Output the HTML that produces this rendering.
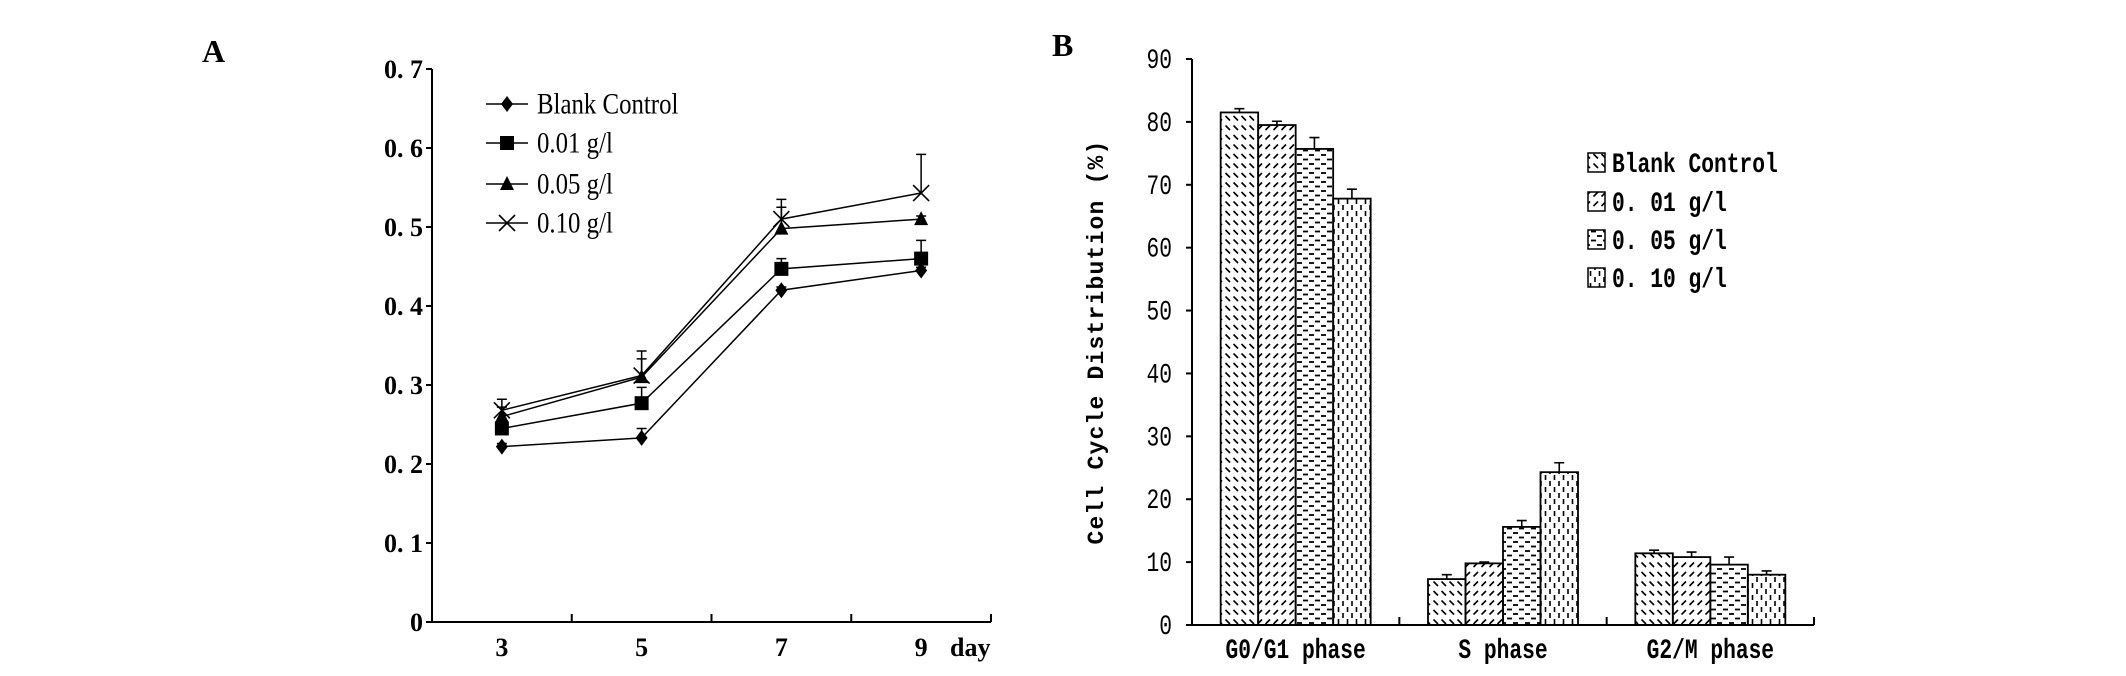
<!DOCTYPE html>
<html><head><meta charset="utf-8">
<style>
html,body{margin:0;padding:0;background:#fff;overflow:hidden;}
svg{display:block;}
.serif{font-family:"Liberation Serif",serif;}
.mono{font-family:"Liberation Mono",monospace;}
</style></head>
<body>
<svg id="fig" width="2126" height="676" viewBox="0 0 2126 676" xmlns="http://www.w3.org/2000/svg">
<defs>
<pattern id="p0" width="8" height="9.5" patternUnits="userSpaceOnUse"><line x1="1.5" y1="2" x2="6" y2="6.5" stroke="#000" stroke-width="1.6"/></pattern>
<pattern id="p1" width="8" height="9.5" patternUnits="userSpaceOnUse"><line x1="1.5" y1="6.5" x2="6" y2="2" stroke="#000" stroke-width="1.6"/></pattern>
<pattern id="p2" width="12" height="9" patternUnits="userSpaceOnUse"><line x1="1" y1="2" x2="6" y2="2" stroke="#000" stroke-width="1.8"/><line x1="7" y1="6.5" x2="12" y2="6.5" stroke="#000" stroke-width="1.8"/></pattern>
<pattern id="p3" width="9" height="12" patternUnits="userSpaceOnUse"><line x1="2" y1="1" x2="2" y2="6" stroke="#000" stroke-width="1.6"/><line x1="6.5" y1="7" x2="6.5" y2="12" stroke="#000" stroke-width="1.6"/></pattern>
</defs>
<text x="202" y="62" class="serif" font-size="32" font-weight="bold">A</text>
<text x="1052" y="56" class="serif" font-size="32" font-weight="bold">B</text>
<g id="chartA"></g>
<g id="chartB"></g>
</svg>
<script>
// ---- Chart A data ----
const daysA = ["3","5","7","9"];
const seriesNamesA = ["Blank Control","0.01 g/l","0.05 g/l","0.10 g/l"];
const blankA = [0.222,0.233,0.420,0.445];
const g001A = [0.245,0.277,0.447,0.460];
const g005A = [0.260,0.310,0.498,0.510];
const g010A = [0.268,0.312,0.510,0.543];
const blankErrA = [0.004,0.012,0.004,0.004];
const g001ErrA = [0.004,0.020,0.013,0.023];
const g005ErrA = [0.012,0.023,0.027,0.004];
const g010ErrA = [0.014,0.031,0.025,0.049];
const yTicksA = [0,0.1,0.2,0.3,0.4,0.5,0.6,0.7];
const yTickLabelsA = ["0","0. 1","0. 2","0. 3","0. 4","0. 5","0. 6","0. 7"];
// ---- Chart B data ----
const phasesB = ["G0/G1 phase","S phase","G2/M phase"];
const seriesNamesB = ["Blank Control","0. 01 g/l","0. 05 g/l","0. 10 g/l"];
const blankB = [81.5,7.3,11.4];
const g001B = [79.5,9.8,10.8];
const g005B = [75.7,15.6,9.6];
const g010B = [67.8,24.3,8.0];
const blankErrB = [0.6,0.7,0.5];
const g001ErrB = [0.6,0.2,0.8];
const g005ErrB = [1.8,1.0,1.2];
const g010ErrB = [1.5,1.5,0.6];
const yTicksB = [0,10,20,30,40,50,60,70,80,90];

const NS="http://www.w3.org/2000/svg";
function mk(parent,tag,attrs,text){const e=document.createElementNS(NS,tag);for(const k in attrs)e.setAttribute(k,attrs[k]);if(text!==undefined)e.textContent=text;parent.appendChild(e);return e;}
function sc(x,y,sx,sy){return `translate(${x},${y}) scale(${sx},${sy}) translate(${-x},${-y})`;}

// ===== Chart A =====
(function(){
const g=document.getElementById('chartA');
const x0=432,x1=991,yb=622,yt=69;
const yA=v=>yb-(v/0.7)*(yb-yt);
const bandW=(x1-x0)/4;
const xA=i=>x0+bandW*(i+0.5);
let e;
e=mk(g,'line',{x1:x0,y1:yt,x2:x0,y2:yb,stroke:'#000','stroke-width':2});


e=mk(g,'line',{x1:x0,y1:yb,x2:x1,y2:yb,stroke:'#000','stroke-width':2});


yTicksA.forEach((v,i)=>{
 mk(g,'line',{x1:x0-6,y1:yA(v),x2:x0,y2:yA(v),stroke:'#000','stroke-width':2});
 e=mk(g,'text',{x:x0-9,y:yA(v)+9,'text-anchor':'end','font-size':26,'font-weight':'bold',class:'serif'},yTickLabelsA[i]);
 
 
});
for(let i=1;i<=4;i++){mk(g,'line',{x1:x0+bandW*i,y1:yb,x2:x0+bandW*i,y2:yb-8,stroke:'#000','stroke-width':2});}
daysA.forEach((d,i)=>{
 e=mk(g,'text',{x:xA(i),y:yb+34,'text-anchor':'middle','font-size':26,'font-weight':'bold',class:'serif'},d);
 
 
});
e=mk(g,'text',{x:950,y:yb+34,'font-size':26,'font-weight':'bold',class:'serif'},'day');


const all=[blankA,g001A,g005A,g010A],errs=[blankErrA,g001ErrA,g005ErrA,g010ErrA];
function marker(p,k,cx,cy){
 if(k===0)return mk(p,'polygon',{points:`${cx},${cy-8} ${cx+6},${cy} ${cx},${cy+8} ${cx-6},${cy}`,fill:'#000'});
 if(k===1)return mk(p,'rect',{x:cx-7,y:cy-7,width:14,height:14,fill:'#000'});
 if(k===2)return mk(p,'polygon',{points:`${cx},${cy-8} ${cx+7},${cy+6} ${cx-7},${cy+6}`,fill:'#000'});
 return mk(p,'path',{d:`M${cx-8},${cy-8}L${cx+8},${cy+8}M${cx+8},${cy-8}L${cx-8},${cy+8}`,stroke:'#000','stroke-width':1.6,fill:'none'});
}
all.forEach((ser,k)=>{
 const sg=mk(g,'g',{});
 
 
 mk(sg,'polyline',{points:ser.map((v,i)=>xA(i)+','+yA(v)).join(' '),fill:'none',stroke:'#000','stroke-width':1.5});
 ser.forEach((v,i)=>{
  const ye=yA(v+errs[k][i]);
  mk(sg,'path',{d:`M${xA(i)},${yA(v)}V${ye}M${xA(i)-5},${ye}H${xA(i)+5}`,stroke:'#000','stroke-width':1.5});
  const m=marker(sg,k,xA(i),yA(v));
  
  
 });
});
const legY=[104,143,184,223];
seriesNamesA.forEach((n,k)=>{
 const lg=mk(g,'g',{});
 
 
 mk(lg,'line',{x1:486,y1:legY[k],x2:528,y2:legY[k],stroke:'#000','stroke-width':1.5});
 marker(lg,k,507,legY[k]);
 mk(lg,'text',{x:537,y:legY[k]+9,'font-size':27,class:'serif',transform:sc(537,legY[k],0.92,1.08)},n);
});
})();

// ===== Chart B =====
(function(){
const g=document.getElementById('chartB');
const x0=1192,x1=1814,yb=625,yt=59;
const yB=v=>yb-(v/90)*(yb-yt);
const gw=(x1-x0)/3, bw=37.5, off=(gw-4*bw)/2;
let e;
e=mk(g,'line',{x1:x0,y1:yt,x2:x0,y2:yb,stroke:'#000','stroke-width':2});


e=mk(g,'line',{x1:x0,y1:yb,x2:x1,y2:yb,stroke:'#000','stroke-width':2});


yTicksB.forEach(v=>{
 mk(g,'line',{x1:x0-6,y1:yB(v),x2:x0,y2:yB(v),stroke:'#000','stroke-width':2});
 const tx=x0-20,ty=yB(v)+9;
 e=mk(g,'text',{x:tx,y:ty,'text-anchor':'end','font-size':25,class:'mono',transform:sc(tx,ty,0.85,1.1)},String(v));
 
 
});
for(let i=1;i<=3;i++)mk(g,'line',{x1:x0+gw*i,y1:yb,x2:x0+gw*i,y2:yb-8,stroke:'#000','stroke-width':2});
phasesB.forEach((p,i)=>{
 const tx=x0+gw*(i+0.5),ty=yb+33;
 e=mk(g,'text',{x:tx,y:ty,'text-anchor':'middle','font-size':25,'font-weight':'bold',class:'mono',transform:sc(tx,ty,0.85,1.1)},p);
 
 
});
e=mk(g,'text',{x:0,y:0,'text-anchor':'middle','font-size':23,'font-weight':'bold',class:'mono','letter-spacing':'1.2',transform:'translate(1103,342) rotate(-90)'},'Cell Cycle Distribution (%)');


const all=[blankB,g001B,g005B,g010B],errs=[blankErrB,g001ErrB,g005ErrB,g010ErrB];
all.forEach((ser,k)=>{
 ser.forEach((v,i)=>{
  const bx=x0+gw*i+off+k*bw;
  const r=mk(g,'rect',{x:bx,y:yB(v),width:bw,height:yb-yB(v),fill:`url(#p${k})`,stroke:'#000','stroke-width':1.8});
  
  
  const cx=bx+bw/2,ye=yB(v+errs[k][i]);
  mk(g,'path',{d:`M${cx},${yB(v)}V${ye}M${cx-5},${ye}H${cx+5}`,stroke:'#000','stroke-width':1.6});
 });
});
const legY=[164,203,241,279];
seriesNamesB.forEach((n,k)=>{
 const lg=mk(g,'g',{});
 
 
 mk(lg,'rect',{x:1588,y:legY[k]-11,width:17,height:19,fill:`url(#p${k})`,stroke:'#000','stroke-width':1.5});
 const ty=legY[k]+8;
 mk(lg,'text',{x:1612,y:ty,'font-size':25,'font-weight':'bold',class:'mono',transform:sc(1612,ty,0.85,1.1)},n);
});
})();
</script>
</body></html>
